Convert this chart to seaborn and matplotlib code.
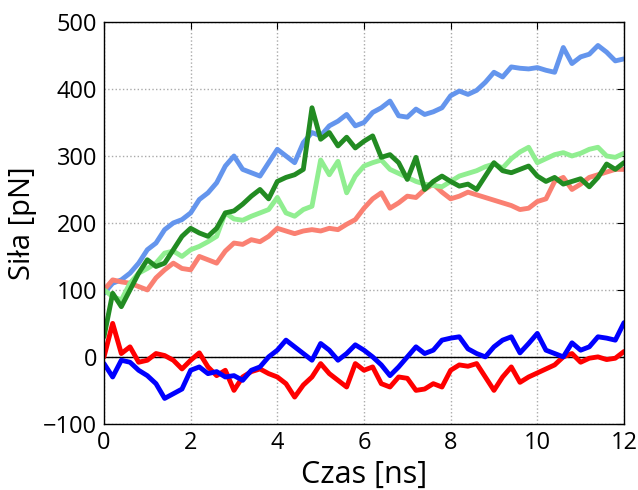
import numpy as np
import pandas as pd
import seaborn as sns
import matplotlib
matplotlib.use("Agg")
import matplotlib.pyplot as plt

# time axis [ns], every 0.2 ns
czas = np.round(np.arange(0, 12.01, 0.2), 1)

# force traces [pN]
cornflower = [95, 110, 115, 125, 140, 160, 170, 190, 200, 205, 215, 235, 245, 260, 285, 300,
              280, 275, 270, 290, 310, 300, 290, 320, 335, 330, 345, 352, 362, 345, 350, 365,
              372, 382, 360, 358, 370, 362, 366, 372, 390, 397, 392, 398, 410, 425, 418, 433,
              431, 430, 432, 428, 425, 462, 438, 448, 452, 465, 455, 442, 445]
darkgreen = [30, 95, 75, 100, 125, 145, 135, 140, 160, 180, 192, 185, 180, 192, 215, 218,
             228, 240, 250, 236, 262, 268, 272, 280, 372, 325, 335, 315, 328, 312, 322, 330,
             298, 302, 290, 265, 298, 250, 262, 270, 262, 255, 258, 250, 270, 290, 278, 275,
             280, 285, 270, 262, 268, 258, 262, 266, 254, 268, 288, 280, 290]
lightgreen = [100, 90, 85, 110, 125, 132, 140, 155, 158, 150, 160, 165, 172, 180, 215, 206,
              204, 210, 215, 220, 238, 215, 210, 220, 225, 294, 272, 292, 245, 270, 285, 290,
              294, 280, 274, 268, 262, 258, 256, 254, 262, 270, 274, 278, 284, 288, 282, 296,
              306, 313, 290, 296, 302, 305, 300, 304, 310, 313, 300, 298, 304]
salmon = [100, 115, 112, 110, 105, 100, 118, 130, 140, 132, 130, 150, 145, 140, 158, 170,
          168, 175, 172, 180, 192, 188, 184, 188, 190, 188, 192, 190, 198, 205, 222, 236,
          245, 222, 230, 240, 238, 250, 258, 246, 236, 240, 246, 242, 238, 234, 230, 226,
          220, 222, 232, 236, 262, 268, 250, 258, 268, 272, 276, 280, 280]
red = [0, 50, 5, 15, -8, -5, 5, 2, -5, -18, -5, 6, -15, -28, -20, -50,
       -30, -22, -18, -25, -30, -40, -60, -42, -30, -10, -25, -35, -45, -10, -20, -15,
       -40, -45, -30, -32, -50, -48, -40, -45, -20, -12, -14, -10, -30, -50, -30, -15,
       -38, -30, -24, -18, -12, 0, 5, -8, -2, 0, -4, -2, 8]
blue = [-10, -30, -5, -8, -20, -28, -40, -62, -55, -48, -20, -15, -25, -22, -30, -28,
        -35, -20, -15, 0, 10, 25, 15, 5, -5, 20, 10, -5, 5, 18, 10, 0,
        -12, -28, -15, 0, 15, 5, 10, 25, 28, 30, 12, 5, 0, 15, 25, 30,
        6, 20, 35, 10, 5, 0, 21, 10, 15, 30, 28, 25, 51]

series = {
    "cornflowerblue": cornflower,
    "salmon": salmon,
    "lightgreen": lightgreen,
    "forestgreen": darkgreen,
    "red": red,
    "blue": blue,
}

sns.set_style("white")
plt.rcParams["font.family"] = ["Open Sans", "DejaVu Sans"]
plt.rcParams["text.color"] = "black"
plt.rcParams["axes.labelcolor"] = "black"
plt.rcParams["xtick.color"] = "black"
plt.rcParams["ytick.color"] = "black"

fig = plt.figure(figsize=(6.38, 4.9), dpi=100)
ax = fig.add_axes([0.163, 0.135, 0.815, 0.82])

for color, values in series.items():
    df = pd.DataFrame({"czas": czas, "sila": values})
    sns.lineplot(data=df, x="czas", y="sila", color=color, linewidth=3.5, ax=ax)

ax.axhline(0, color="black", linewidth=1.0, zorder=1)

ax.set_xlim(0, 12)
ax.set_ylim(-100, 500)
ax.set_xticks(range(0, 13, 2))
ax.set_yticks(range(-100, 501, 100))
ax.grid(True, linestyle=":", color="#aaaaaa", linewidth=1.0)
ax.set_axisbelow(True)
for sp in ax.spines.values():
    sp.set_color("black")
    sp.set_linewidth(1.0)
ax.tick_params(direction="in", top=True, right=True, length=5, labelsize=17, pad=5)

ax.set_xlabel("Czas [ns]", fontsize=22)
ax.set_ylabel("Siła [pN]", fontsize=21)

fig.savefig("out.png", dpi=100)
